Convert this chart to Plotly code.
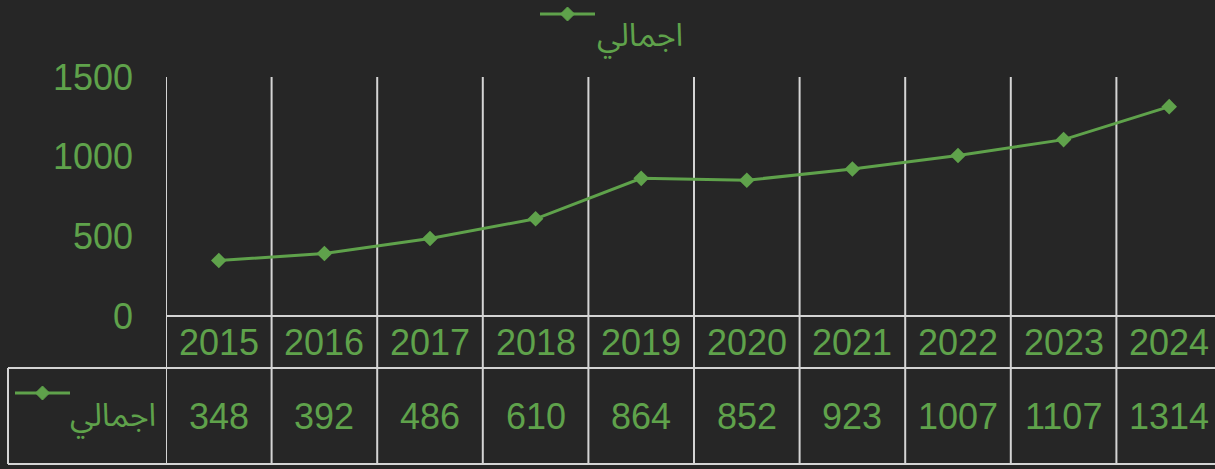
import plotly.graph_objects as go

years = ["2015", "2016", "2017", "2018", "2019", "2020", "2021", "2022", "2023", "2024"]
values = [348, 392, 486, 610, 864, 852, 923, 1007, 1107, 1314]
series_name = "اجمالي"
y_ticks = [0, 500, 1000, 1500]

W, H = 1215, 469
L, R_px, T, B_px = 166, 1215, 77, 316  # plot area in pixels
GREEN = "#5FA24B"
GRID = "#D4D4D4"
BG = "#262626"
FONT = "Liberation Sans, Arial, DejaVu Sans, sans-serif"
AR_FONT = "Noto Sans Arabic, DejaVu Sans, Liberation Sans, sans-serif"

n = len(years)
cat_px = 105.6
x_span = (R_px - L) / cat_px
x_range = [-0.5, -0.5 + x_span]


def px_x(p):
    return (p - L) / (R_px - L)


def px_y(p):
    return (B_px - p) / (B_px - T)


fig = go.Figure()
fig.add_trace(go.Scatter(
    x=list(range(n)), y=values, mode="lines+markers", name=series_name,
    line=dict(color=GREEN, width=3),
    marker=dict(symbol="diamond", size=12, color=GREEN),
    showlegend=False, hoverinfo="skip", cliponaxis=False,
))

shapes = []
for i in range(n + 1):
    shapes.append(dict(type="line", xref="x", yref="paper",
                       x0=i - 0.5, x1=i - 0.5, y0=1, y1=px_y(464),
                       line=dict(color=GRID, width=2), layer="below"))
shapes.append(dict(type="line", xref="paper", yref="paper", x0=0, x1=1.02,
                   y0=0, y1=0, line=dict(color=GRID, width=2)))
for py in (368, 464):
    shapes.append(dict(type="line", xref="paper", yref="paper", x0=px_x(8), x1=1.02,
                       y0=px_y(py), y1=px_y(py), line=dict(color=GRID, width=2)))
shapes.append(dict(type="line", xref="paper", yref="paper", x0=px_x(8), x1=px_x(8),
                   y0=px_y(368), y1=px_y(464), line=dict(color=GRID, width=2)))


def legend_symbol(x0, x1, yc, d=7):
    out = [dict(type="line", xref="paper", yref="paper", x0=px_x(x0), x1=px_x(x1),
                y0=px_y(yc), y1=px_y(yc), line=dict(color=GREEN, width=3))]
    xc = (x0 + x1) / 2
    path = "M {} {} L {} {} L {} {} L {} {} Z".format(
        px_x(xc - d), px_y(yc), px_x(xc), px_y(yc - d),
        px_x(xc + d), px_y(yc), px_x(xc), px_y(yc + d))
    out.append(dict(type="path", xref="paper", yref="paper", path=path,
                    fillcolor=GREEN, line=dict(color=GREEN, width=1)))
    return out


shapes += legend_symbol(540, 595, 14)
shapes += legend_symbol(15, 70, 393)

annotations = []
for i, (yr, v) in enumerate(zip(years, values)):
    annotations.append(dict(x=i, y=px_y(342), xref="x", yref="paper", text=yr,
                            showarrow=False, font=dict(size=36, color=GREEN, family=FONT),
                            xanchor="center", yanchor="middle"))
    annotations.append(dict(x=i, y=px_y(416), xref="x", yref="paper", text=str(v),
                            showarrow=False, font=dict(size=36, color=GREEN, family=FONT),
                            xanchor="center", yanchor="middle"))
annotations.append(dict(x=px_x(640), y=px_y(36), xref="paper", yref="paper", text=series_name,
                        showarrow=False, font=dict(size=32, color=GREEN, family=AR_FONT),
                        xanchor="center", yanchor="middle"))
annotations.append(dict(x=px_x(158), y=px_y(416), xref="paper", yref="paper", text=series_name,
                        showarrow=False, font=dict(size=32, color=GREEN, family=AR_FONT),
                        xanchor="right", yanchor="middle"))

fig.update_layout(
    width=W, height=H,
    margin=dict(l=L, r=W - R_px, t=T, b=H - B_px, pad=0),
    paper_bgcolor=BG, plot_bgcolor=BG,
    shapes=shapes, annotations=annotations,
    showlegend=False,
    xaxis=dict(range=x_range, showgrid=False, zeroline=False, showticklabels=False,
               showline=False, ticks=""),
    yaxis=dict(range=[0, 1500], tickvals=y_ticks, showgrid=False, zeroline=False,
               showline=False, ticks="", ticklabelstandoff=32,
               tickfont=dict(size=36, color=GREEN, family=FONT)),
)

fig.write_html("out.html", config={"displayModeBar": False},
               post_script="document.body.style.margin='0';document.body.style.background='#262626';")
